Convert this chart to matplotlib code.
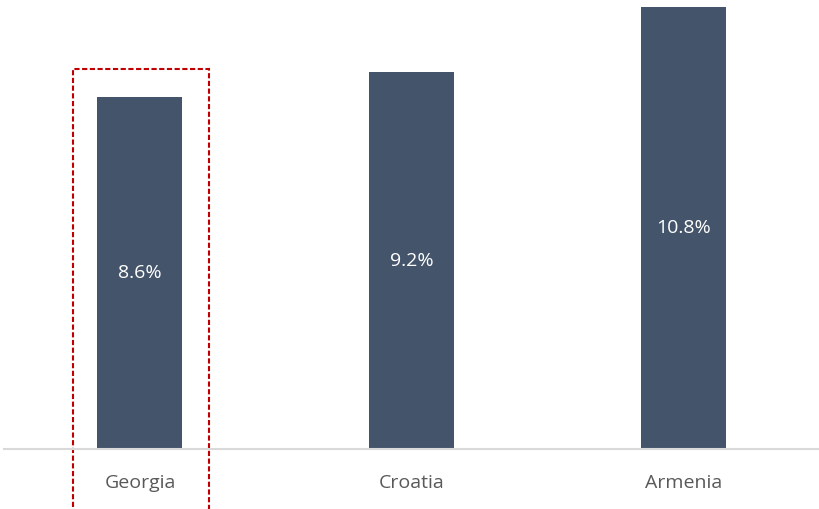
import matplotlib.pyplot as plt
from matplotlib.patches import Rectangle

countries = ['Georgia', 'Croatia', 'Armenia']
values = [8.6, 9.2, 10.8]
labels = ['8.6%', '9.2%', '10.8%']

plt.rcParams['font.family'] = ['Open Sans', 'DejaVu Sans']

fig = plt.figure(figsize=(8.2, 5.09), dpi=100)
ax = fig.add_axes([4 / 820, 60 / 509, 816 / 820, 449 / 509])

x = range(len(countries))
bars = ax.bar(x, values, width=0.3125, color='#44546A')

for b, lab in zip(bars, labels):
    ax.text(b.get_x() + b.get_width() / 2, b.get_height() / 2, lab,
            ha='center', va='center', color='white', fontsize=14)

ax.set_xlim(-0.5, 2.5)
ax.set_ylim(0, 10.97)
ax.set_xticks(list(x))
ax.set_xticklabels(countries, fontsize=14, color='#595959')
ax.tick_params(axis='x', length=0, pad=18)
ax.set_yticks([])
for s in ['top', 'right', 'left']:
    ax.spines[s].set_visible(False)
ax.spines['bottom'].set_color('#D9D9D9')
ax.spines['bottom'].set_linewidth(1.5)

# highlight box around Georgia, open at the bottom
ax.add_patch(Rectangle((-0.2445, -3), 0.4965, 9.28 + 3, fill=False,
                       edgecolor='#C00000', linestyle=(0, (2.5, 1.2)),
                       linewidth=1.5, clip_on=False))

fig.savefig('out.png', dpi=100)
